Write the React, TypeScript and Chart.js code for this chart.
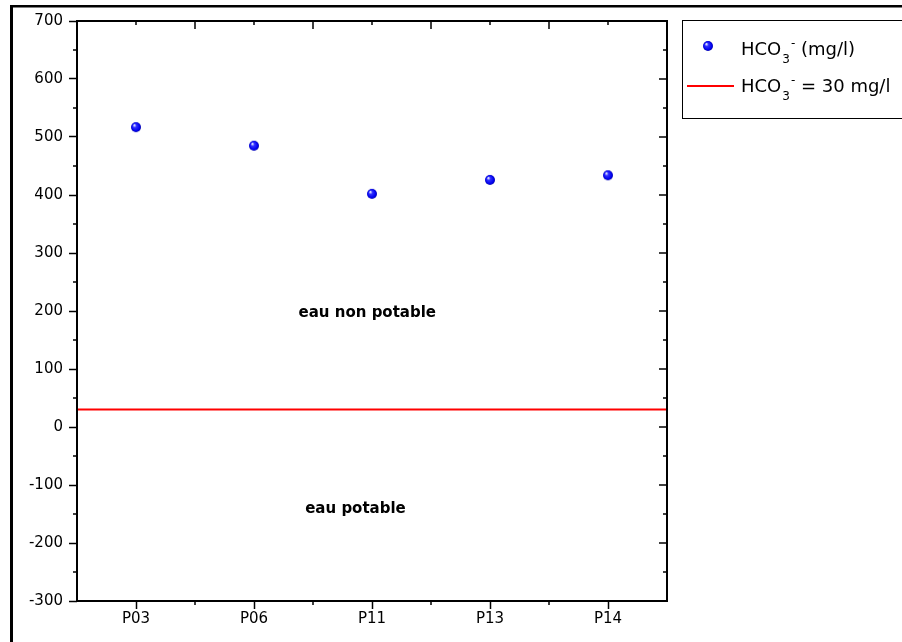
import React, { useEffect, useRef } from "react";
import { Chart, registerables } from "chart.js";

Chart.register(...registerables);

const categories = ["P03", "P06", "P11", "P13", "P14"];
const hco3Values = [517, 485, 402, 426, 434];
const thresholdValue = 30;
const yMin = -300;
const yMax = 700;
const yStep = 100;
const zoneLabels = ["eau non potable", "eau potable"];
const zoneLabelX = [1.96, 1.86];
const zoneLabelY = [197, -141];

const FONT = "'DejaVu Sans', sans-serif";

function makeSphere(r: number): HTMLCanvasElement {
  const c = document.createElement("canvas");
  c.width = r * 2 + 2;
  c.height = r * 2 + 2;
  const ctx = c.getContext("2d")!;
  const cx = r + 1, cy = r + 1;
  const g = ctx.createRadialGradient(cx - r * 0.35, cy - r * 0.4, r * 0.1, cx, cy, r);
  g.addColorStop(0, "#d8dcff");
  g.addColorStop(0.3, "#3030ff");
  g.addColorStop(0.8, "#0000ee");
  g.addColorStop(1, "#0000a8");
  ctx.fillStyle = g;
  ctx.beginPath();
  ctx.arc(cx, cy, r, 0, Math.PI * 2);
  ctx.fill();
  return c;
}

export default function App() {
  const ref = useRef<HTMLCanvasElement | null>(null);

  useEffect(() => {
    const canvas = ref.current!;
    const sphere = makeSphere(5);

    const decor = {
      id: "decor",
      afterDraw(chart: any) {
        const ctx = chart.ctx as CanvasRenderingContext2D;
        const { left, right, top, bottom } = chart.chartArea;
        const xs = chart.scales.x;
        const ys = chart.scales.y;
        ctx.save();

        // threshold line
        const ty = ys.getPixelForValue(thresholdValue);
        ctx.strokeStyle = "#ff0000";
        ctx.lineWidth = 2;
        ctx.beginPath();
        ctx.moveTo(left, ty);
        ctx.lineTo(right, ty);
        ctx.stroke();

        // frame
        ctx.strokeStyle = "#000";
        ctx.lineWidth = 2;
        ctx.strokeRect(left, top, right - left, bottom - top);

        ctx.lineWidth = 1.5;
        // y ticks
        for (let v = yMin; v <= yMax; v += yStep / 2) {
          const y = ys.getPixelForValue(v);
          const major = (v - yMin) % yStep === 0;
          const len = major ? 8 : 4;
          ctx.beginPath();
          if (!major) {
            ctx.moveTo(left - len, y);
            ctx.lineTo(left, y);
          }
          ctx.moveTo(right, y);
          ctx.lineTo(right - len, y);
          ctx.stroke();
        }
        // x ticks
        for (let i = 0; i < categories.length; i++) {
          const xc = xs.getPixelForValue(i);
          const xb = xs.getPixelForValue(i + 0.5);
          ctx.beginPath();
          // bottom minor at boundaries
          if (i < categories.length - 1) {
            ctx.moveTo(xb, bottom);
            ctx.lineTo(xb, bottom + 4);
            // top major at boundaries
            ctx.moveTo(xb, top);
            ctx.lineTo(xb, top + 8);
          }
          // top minor at centers
          ctx.moveTo(xc, top);
          ctx.lineTo(xc, top + 4);
          ctx.stroke();
        }

        // zone labels
        ctx.fillStyle = "#000";
        ctx.font = `bold 15px ${FONT}`;
        ctx.textAlign = "center";
        ctx.textBaseline = "middle";
        for (let i = 0; i < zoneLabels.length; i++) {
          ctx.fillText(zoneLabels[i], xs.getPixelForValue(zoneLabelX[i]), ys.getPixelForValue(zoneLabelY[i]));
        }

        // outer frame
        ctx.fillStyle = "#000";
        ctx.fillRect(10, 5, 892, 2.5);
        ctx.fillRect(10, 5, 3, 637);

        // legend
        ctx.strokeStyle = "#000";
        ctx.lineWidth = 1;
        ctx.strokeRect(682.5, 20.5, 240, 98);
        ctx.drawImage(sphere, 708 - sphere.width / 2, 46 - sphere.height / 2);
        ctx.strokeStyle = "#ff0000";
        ctx.lineWidth = 2;
        ctx.beginPath();
        ctx.moveTo(687, 86);
        ctx.lineTo(734, 86);
        ctx.stroke();

        const drawChem = (x: number, base: number, rest: string) => {
          ctx.fillStyle = "#000";
          ctx.textAlign = "left";
          ctx.textBaseline = "alphabetic";
          ctx.font = `18px ${FONT}`;
          ctx.fillText("HCO", x, base);
          let cx = x + ctx.measureText("HCO").width + 1;
          ctx.font = `12px ${FONT}`;
          ctx.fillText("3", cx, base + 8);
          cx += ctx.measureText("3").width + 1;
          ctx.fillText("-", cx, base - 8);
          cx += ctx.measureText("-").width;
          ctx.font = `18px ${FONT}`;
          ctx.fillText(rest, cx, base);
        };
        drawChem(741, 55, " (mg/l)");
        drawChem(741, 92, " = 30 mg/l");

        ctx.restore();
      },
    };

    const chart = new Chart(canvas, {
      type: "scatter",
      data: {
        labels: categories,
        datasets: [
          {
            label: "HCO3- (mg/l)",
            data: hco3Values.map((v, i) => ({ x: categories[i], y: v })),
            pointStyle: sphere as any,
            pointRadius: 5,
            showLine: false,
          },
        ],
      },
      options: {
        animation: false,
        responsive: false,
        devicePixelRatio: 1,
        layout: { padding: { left: 0, top: 21, right: 235, bottom: 0 } },
        plugins: { legend: { display: false }, tooltip: { enabled: false } },
        scales: {
          x: {
            type: "category",
            labels: categories,
            offset: true,
            grid: {
              display: true,
              offset: false,
              drawOnChartArea: false,
              drawTicks: true,
              tickLength: 8,
              tickColor: "#000",
              tickWidth: 1.5,
              color: "#000",
            },
            border: { display: false },
            ticks: { color: "#000", font: { family: FONT, size: 15 }, padding: 1, maxRotation: 0 },
            afterFit: (s: any) => { s.height = 41; },
          },
          y: {
            type: "linear",
            min: yMin,
            max: yMax,
            grid: {
              display: true,
              drawOnChartArea: false,
              drawTicks: true,
              tickLength: 8,
              tickColor: "#000",
              tickWidth: 1.5,
              color: "#000",
            },
            border: { display: false },
            ticks: { stepSize: yStep, color: "#000", font: { family: FONT, size: 15 }, padding: 6 },
            afterFit: (s: any) => { s.width = 77; },
          },
        },
      },
      plugins: [decor],
    } as any);

    return () => chart.destroy();
  }, []);

  return (
    <div style={{ position: "fixed", left: 0, top: 0, width: 902, height: 642, background: "#fff" }}>
      <canvas ref={ref} width={902} height={642} style={{ display: "block", width: 902, height: 642 }} />
    </div>
  );
}
